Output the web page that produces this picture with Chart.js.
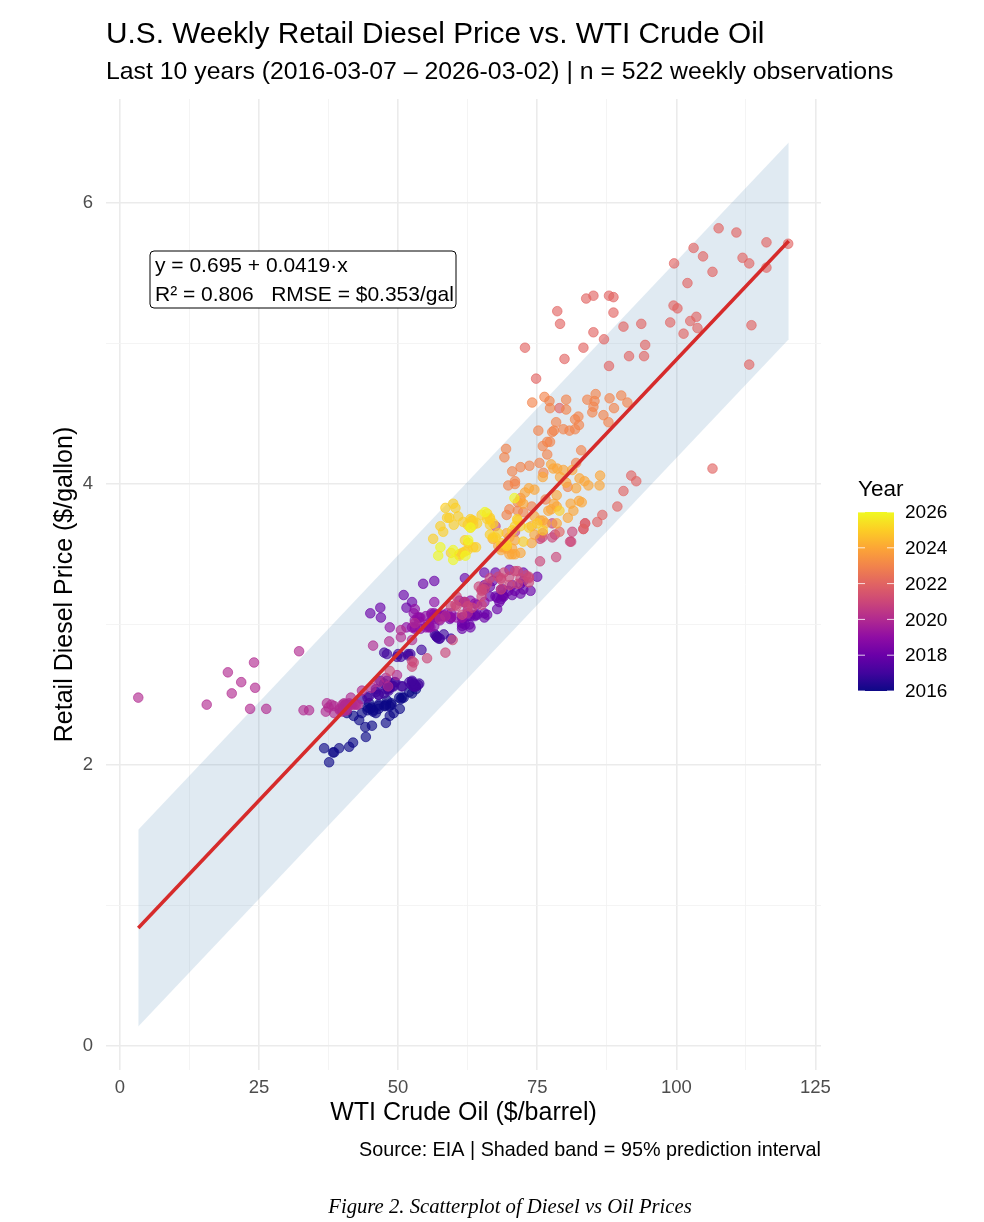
<!DOCTYPE html>
<html>
<head>
<meta charset="utf-8">
<script src="https://cdn.jsdelivr.net/npm/chart.js@4.4.1/dist/chart.umd.min.js"></script>
<style>
  html, body { margin: 0; padding: 0; background: #fff; }
  canvas { display: block; }
</style>
</head>
<body>
<canvas id="grafico" width="984" height="1222" style="width:984px;height:1222px"></canvas>
<script>
// weekly points, [WTI $/bbl, diesel $/gal], one list per calendar year
const y2016 = [[37.6,2.02],[38.5,2.09],[39.4,2.12],[38.3,2.09],[36.7,2.12],[41.2,2.13],[41.9,2.16],[44.2,2.20],
  [44.1,2.27],[45.3,2.28],[47.8,2.30],[48.5,2.35],[49.2,2.37],[50.3,2.40],[48.5,2.42],[48.8,2.43],[47.8,2.43],
  [46.5,2.43],[45.2,2.41],[45.0,2.40],[43.0,2.32],[40.8,2.37],[42.0,2.35],[46.0,2.37],[47.8,2.42],[46.5,2.40],
  [44.5,2.39],[45.5,2.39],[43.5,2.37],[45.5,2.38],[48.8,2.44],[50.5,2.47],[50.2,2.48],[50.7,2.48],[48.0,2.46],
  [44.8,2.44],[44.5,2.41],[46.5,2.42],[47.5,2.42],[51.0,2.48],[52.5,2.51],[52.0,2.52],[53.2,2.54]];
const y2017 = [[52.5,2.59],[52.0,2.59],[52.4,2.57],[52.8,2.56],[52.8,2.56],[53.2,2.56],[53.2,2.56],[53.6,2.57],[53.8,2.58],
  [53.0,2.57],[48.5,2.56],[48.2,2.54],[48.3,2.53],[50.8,2.56],[52.8,2.58],[52.5,2.60],[49.5,2.59],
  [48.5,2.55],[46.0,2.54],[48.5,2.55],[50.6,2.56],[49.0,2.56],[47.8,2.54],[46.0,2.52],[44.5,2.48],[43.5,2.47],
  [46.5,2.50],[44.8,2.49],[46.5,2.50],[47.5,2.51],[49.2,2.56],[49.3,2.59],[48.0,2.60],[47.5,2.58],[46.8,2.60],
  [47.5,2.80],[48.0,2.79],[49.8,2.77],[51.8,2.79],[50.5,2.77],[50.0,2.79],[51.8,2.78],[52.2,2.79],[54.2,2.82],
  [56.8,2.92],[56.6,2.93],[57.0,2.91],[58.2,2.93],[57.0,2.91],[57.3,2.90],[57.5,2.90],[59.5,2.90]];
const y2018 = [[61.5,3.01],[63.0,3.06],[64.2,3.07],[63.8,3.07],[65.5,3.08],[62.5,3.06],[59.3,3.04],[62.0,3.00],[62.8,3.00],
  [61.5,2.99],[61.5,2.97],[63.0,2.98],[65.5,3.05],[63.8,3.06],[66.0,3.07],[67.8,3.11],[68.2,3.16],[68.5,3.18],
  [70.5,3.21],[71.0,3.24],[72.0,3.29],[67.0,3.31],[65.5,3.28],[66.5,3.27],[65.5,3.26],[72.0,3.22],
  [73.8,3.24],[72.5,3.25],[69.0,3.20],[68.8,3.20],[68.8,3.21],[67.5,3.20],[66.5,3.20],[67.8,3.19],[69.8,3.24],
  [68.5,3.25],[68.8,3.25],[70.5,3.28],[72.5,3.31],[75.0,3.34],[72.5,3.37],[70.0,3.39],[67.5,3.37],[65.5,3.37],
  [62.0,3.33],[56.5,3.31],[54.5,3.29],[51.0,3.21],[52.5,3.16],[51.5,3.12],[46.8,3.12],[45.0,3.08],[46.9,3.05]];
const y2019 = [[48.5,2.98],[51.5,2.98],[52.5,2.98],[53.0,2.97],[54.0,2.97],[53.0,2.98],[55.5,3.01],[56.2,3.05],
  [56.5,3.08],[57.0,3.07],[58.8,3.08],[59.5,3.08],[62.5,3.10],[64.2,3.14],[63.8,3.15],[65.5,3.16],[63.0,3.17],
  [61.8,3.16],[62.0,3.16],[61.0,3.17],[56.5,3.16],[53.0,3.11],[52.8,3.08],[53.8,3.05],[58.0,3.06],
  [57.5,3.06],[58.2,3.06],[57.0,3.05],[56.5,3.04],[57.5,3.03],[53.8,3.02],[55.5,2.99],[55.8,2.98],[55.0,2.98],
  [55.5,2.98],[56.5,2.99],[59.5,3.05],[56.0,3.08],[53.5,3.05],[53.0,3.03],[54.0,3.05],[55.0,3.06],[56.0,3.07],
  [56.8,3.07],[57.0,3.06],[57.8,3.06],[58.0,3.07],[58.5,3.06],[59.5,3.05],[60.5,3.05],[61.5,3.05],[61.5,3.05]];
const y2020 = [[62.5,3.08],[58.5,3.06],[57.5,3.04],[53.0,3.01],[50.5,2.96],[50.5,2.91],[52.5,2.89],[48.4,2.88],
  [45.5,2.85],[32.2,2.81],[24.1,2.73],[19.4,2.66],[21.8,2.59],[24.3,2.55],[20.1,2.51],[3.3,2.48],[15.6,2.43],
  [23.4,2.40],[26.3,2.40],[33.0,2.39],[34.0,2.39],[37.2,2.44],[38.5,2.42],[38.0,2.43],[40.3,2.44],[40.0,2.43],
  [40.5,2.43],[40.7,2.43],[41.2,2.44],[41.5,2.43],[41.8,2.43],[42.2,2.43],[42.5,2.43],[42.8,2.43],[40.5,2.43],
  [37.5,2.41],[39.5,2.40],[40.0,2.38],[39.5,2.39],[40.5,2.39],[40.8,2.39],[40.0,2.39],[37.0,2.38],
  [38.5,2.37],[41.0,2.43],[41.5,2.48],[43.5,2.53],[45.2,2.55],[46.5,2.59],[47.8,2.62],[48.2,2.56],[49.8,2.64]];
const y2021 = [[48.5,2.67],[52.5,2.70],[52.8,2.73],[52.5,2.74],[55.2,2.76],[58.5,2.80],[59.8,2.89],[61.5,3.07],
  [62.0,3.16],[65.0,3.20],[65.0,3.24],[60.5,3.20],[60.3,3.14],[59.5,3.13],[60.5,3.13],[63.3,3.12],[62.5,3.13],
  [65.0,3.14],[65.0,3.25],[64.5,3.27],[65.5,3.25],[68.5,3.25],[70.0,3.28],[71.5,3.29],[73.5,3.30],[73.5,3.33],
  [73.0,3.35],[73.5,3.34],[68.5,3.33],[72.0,3.33],[70.0,3.34],[68.0,3.34],[66.5,3.33],[66.0,3.29],[68.5,3.32],
  [69.0,3.37],[71.0,3.38],[71.5,3.38],[75.5,3.45],[78.4,3.48],[81.1,3.59],[83.3,3.68],[83.6,3.72],
  [81.3,3.66],[80.9,3.59],[77.7,3.72],[75.9,3.62],[67.5,3.70],[71.0,3.66],[77.7,3.62],[78.2,3.64],[75.5,3.61]];
const y2022 = [[76.0,3.65],[79.0,3.66],[85.8,3.73],[86.7,3.78],[89.4,3.84],[90.5,3.95],[92.8,4.02],[91.9,4.06],
  [106.5,4.11],[113.1,4.85],[100.2,5.25],[113.5,5.13],[103.6,5.19],[101.3,5.07],[98.9,5.15],[102.5,5.16],
  [103.8,5.11],[99.5,5.27],[102.0,5.43],[103.1,5.68],[104.8,5.62],[111.9,5.61],[107.6,5.82],[110.8,5.79],
  [116.2,5.72],[120.1,5.71],[113.1,5.57],[116.2,5.54],[106.5,5.51],[99.6,5.57],[93.7,5.14],[90.5,5.12],
  [94.4,4.99],[91.5,4.91],[94.2,4.91],[87.9,4.84],[87.0,5.03],[85.1,5.08],[83.3,4.97],[79.9,4.89],
  [78.6,5.23],[83.8,5.32],[85.1,5.34],[87.9,5.34],[88.7,5.33],[88.7,5.22],[79.1,5.14],[72.8,4.97],
  [74.8,4.75],[79.0,4.54],[83.3,3.68],[83.6,3.72]];
const y2023 = [[74.1,4.58],[76.3,4.62],[77.2,4.59],[80.2,4.60],[77.3,4.54],[80.2,4.53],[78.4,4.44],[75.2,4.38],
  [77.7,4.37],[76.8,4.30],[77.3,4.30],[76.8,4.21],[69.4,4.25],[69.1,4.19],[73.6,4.13],[75.4,4.15],[70.5,4.09],
  [76.1,4.08],[71.0,4.02],[69.8,3.99],[72.0,3.90],[71.5,3.87],[70.0,3.82],[72.5,3.80],[69.5,3.78],[71.5,3.81],
  [74.0,3.84],[76.5,3.89],[80.5,3.98],[82.0,4.15],[81.8,4.39],[79.7,4.39],[80.8,4.38],[82.9,4.24],[81.8,4.46],
  [82.4,4.48],[84.9,4.51],[85.1,4.55],[85.3,4.59],[86.9,4.49],[87.8,4.44],[88.8,4.54],[90.1,4.63],[91.2,4.58],
  [88.0,4.61],[85.5,4.64],[84.0,4.60],[82.5,4.42],[78.0,4.38],[76.0,4.27],[72.0,4.12],[71.0,4.00]];
const y2024 = [[72.0,3.88],[72.5,3.86],[72.8,3.94],[74.5,3.96],[73.5,3.97],[76.0,4.05],[77.5,4.14],[77.9,4.11],
  [78.6,4.11],[79.7,4.10],[81.3,4.10],[82.6,4.04],[84.2,3.99],[86.2,3.99],[86.3,4.06],[83.5,4.02],[82.0,3.97],
  [79.1,4.05],[80.2,4.01],[78.5,3.92],[78.0,3.86],[77.5,3.82],[76.0,3.74],[78.5,3.72],[80.5,3.76],
  [81.5,3.81],[83.0,3.87],[82.5,3.88],[81.0,3.86],[78.5,3.84],[77.0,3.81],[74.5,3.77],[76.5,3.72],[75.5,3.74],
  [74.0,3.70],[69.5,3.65],[67.0,3.61],[69.5,3.55],[68.5,3.55],[74.0,3.58],[74.5,3.64],[70.0,3.62],[71.0,3.60],
  [70.5,3.54],[68.0,3.56],[69.5,3.54],[69.0,3.55],[68.5,3.53],[70.0,3.50],[70.5,3.50],[71.0,3.50],[72.0,3.51]];
const y2025 = [[72.5,3.59],[76.0,3.67],[79.0,3.81],[75.0,3.72],[73.5,3.69],[72.0,3.70],[71.5,3.74],[71.0,3.70],
  [70.5,3.67],[68.0,3.65],[66.5,3.64],[67.5,3.62],[68.5,3.58],[69.5,3.57],[69.5,3.56],[62.0,3.60],[62.6,3.58],
  [63.5,3.55],[62.5,3.53],[59.5,3.51],[61.0,3.49],[62.0,3.52],[61.0,3.50],[61.5,3.51],[64.0,3.55],[67.0,3.62],
  [71.4,3.75],[66.5,3.76],[66.0,3.75],[67.1,3.72],[66.5,3.71],[66.0,3.79],[66.5,3.75],[65.0,3.78],[63.2,3.74],
  [63.5,3.71],[64.2,3.72],[63.0,3.69],[63.0,3.75],[63.5,3.74],[62.5,3.71],[61.7,3.73],[60.8,3.77],[59.2,3.76],
  [57.6,3.70],[60.0,3.71],[59.9,3.86],[60.3,3.83],[58.5,3.83],[58.8,3.76],[58.1,3.66],[56.3,3.61]];
const y2026 = [[57.2,3.49],[59.9,3.46],[57.6,3.55],[59.9,3.53],[62.1,3.49],[62.6,3.60],[63.0,3.69],[65.6,3.80],[70.9,3.90]];

const years = [2016, 2017, 2018, 2019, 2020, 2021, 2022, 2023, 2024, 2025, 2026];
const pointsByYear = [y2016, y2017, y2018, y2019, y2020, y2021, y2022, y2023, y2024, y2025, y2026];
// plasma colours at 2016, 2017 ... 2026
const plasma = ['#0d0887','#41049d','#6a00a8','#8f0da4','#b12a90','#cc4778','#e16462','#f2844b','#fca636','#fcce25','#f0f921'];

// fitted line and 95% prediction band (end points)
const fitX = [3.3, 120.2];
const fitY = [0.84, 5.73];
const bandLow = [0.14, 5.03];
const bandHigh = [1.54, 6.43];

const xTicks = [0, 12.5, 25, 37.5, 50, 62.5, 75, 87.5, 100, 112.5, 125];
const yTicks = [0, 1, 2, 3, 4, 5, 6];
const legendYears = [2016, 2018, 2020, 2022, 2024, 2026];

const title = 'U.S. Weekly Retail Diesel Price vs. WTI Crude Oil';
const subtitle = 'Last 10 years (2016-03-07 \u2013 2026-03-02) | n = 522 weekly observations';
const fitText1 = 'y = 0.695 + 0.0419\u00b7x';
const fitText2 = 'R\u00b2 = 0.806   RMSE = $0.353/gal';
const xTitle = 'WTI Crude Oil ($/barrel)';
const yTitle = 'Retail Diesel Price ($/gallon)';
const caption = 'Source: EIA | Shaded band = 95% prediction interval';
const figCaption = 'Figure 2. Scatterplot of Diesel vs Oil Prices';

const FONT = '"Liberation Sans", Arial, sans-serif';

function rgba(hex, a) {
  const n = parseInt(hex.slice(1), 16);
  return 'rgba(' + (n >> 16) + ',' + ((n >> 8) & 255) + ',' + (n & 255) + ',' + a + ')';
}

const datasets = [];

datasets.push({
  type: 'line', label: 'low', order: 50,
  data: fitX.map((x, i) => ({ x: x, y: bandLow[i] })),
  borderWidth: 0, pointRadius: 0, fill: false
});
datasets.push({
  type: 'line', label: 'high', order: 49,
  data: fitX.map((x, i) => ({ x: x, y: bandHigh[i] })),
  borderWidth: 0, pointRadius: 0, fill: '-1',
  backgroundColor: 'rgba(70,130,180,0.17)'
});

pointsByYear.forEach((pts, i) => {
  datasets.push({
    type: 'scatter', label: String(years[i]), order: 20 - i,
    data: pts.map(p => ({ x: p[0], y: p[1] })),
    pointRadius: 4.8, pointBorderWidth: 1,
    backgroundColor: rgba(plasma[i], 0.64),
    borderColor: rgba(plasma[i], 0.64)
  });
});

datasets.push({
  type: 'line', label: 'fit', order: 0,
  data: fitX.map((x, i) => ({ x: x, y: fitY[i] })),
  borderColor: '#d62b2b', borderWidth: 3.5, pointRadius: 0, fill: false
});

const textos = {
  id: 'textos',
  afterDraw(chart) {
    const c = chart.ctx;
    const a = chart.chartArea;
    c.save();
    c.fillStyle = '#000';
    c.textBaseline = 'middle';

    c.textAlign = 'left';
    c.font = '29.8px ' + FONT;
    c.fillText(title, 106, 35);
    c.font = '24.8px ' + FONT;
    c.fillText(subtitle, 106, 72);

    c.textAlign = 'center';
    c.font = '25px ' + FONT;
    c.fillText(xTitle, (a.left + a.right) / 2, 1113);
    c.save();
    c.translate(65, (a.top + a.bottom) / 2);
    c.rotate(-Math.PI / 2);
    c.fillText(yTitle, 0, 0);
    c.restore();

    c.textAlign = 'right';
    c.font = '19.8px ' + FONT;
    c.fillText(caption, a.right, 1151);

    c.textAlign = 'center';
    c.font = 'italic 20.7px "Liberation Serif", serif';
    c.fillText(figCaption, 510, 1208);

    // fit label box
    const bx = 150, by = 251, bw = 306, bh = 57, r = 4;
    c.beginPath();
    c.moveTo(bx + r, by);
    c.arcTo(bx + bw, by, bx + bw, by + bh, r);
    c.arcTo(bx + bw, by + bh, bx, by + bh, r);
    c.arcTo(bx, by + bh, bx, by, r);
    c.arcTo(bx, by, bx + bw, by, r);
    c.closePath();
    c.fillStyle = '#fff';
    c.fill();
    c.lineWidth = 1;
    c.strokeStyle = '#000';
    c.stroke();
    c.fillStyle = '#000';
    c.textAlign = 'left';
    c.font = '21px ' + FONT;
    c.fillText(fitText1, 155, 266);
    c.fillText(fitText2, 155, 295);

    // colour bar legend
    const barL = 858, barW = 36, barTop = 512, barBot = 691;
    c.font = '22.5px ' + FONT;
    c.fillText('Year', 858, 490);
    const g = c.createLinearGradient(0, barBot, 0, barTop);
    plasma.forEach((col, i) => g.addColorStop(i / (plasma.length - 1), col));
    c.fillStyle = g;
    c.fillRect(barL, barTop, barW, barBot - barTop);
    c.font = '19px ' + FONT;
    legendYears.forEach(yr => {
      const yy = barBot - (yr - years[0]) / (years[years.length - 1] - years[0]) * (barBot - barTop);
      c.strokeStyle = 'rgba(255,255,255,0.8)';
      c.lineWidth = 1;
      c.beginPath();
      c.moveTo(barL, yy); c.lineTo(barL + 7, yy);
      c.moveTo(barL + barW - 7, yy); c.lineTo(barL + barW, yy);
      c.stroke();
      c.fillStyle = '#000';
      c.fillText(String(yr), 905, yy + 1);
    });
    c.restore();
  }
};

new Chart(document.getElementById('grafico'), {
  type: 'scatter',
  data: { datasets: datasets },
  plugins: [textos],
  options: {
    responsive: false,
    animation: false,
    events: [],
    layout: { padding: { left: 0, right: 163, top: 99, bottom: 0 } },
    plugins: { legend: { display: false }, tooltip: { enabled: false } },
    scales: {
      x: {
        type: 'linear', min: -2.5, max: 126,
        afterBuildTicks: s => { s.ticks = xTicks.map(v => ({ value: v })); },
        afterFit: s => { s.height = 152; },
        border: { display: false },
        grid: {
          drawTicks: false,
          color: ctx => (ctx.tick && ctx.tick.value % 25 === 0) ? '#ebebeb' : '#f3f3f3',
          lineWidth: ctx => (ctx.tick && ctx.tick.value % 25 === 0) ? 1.6 : 0.9
        },
        ticks: {
          padding: 7, color: '#4d4d4d', font: { family: FONT, size: 18.5 },
          maxRotation: 0, autoSkip: false,
          callback: v => (v % 25 === 0 ? String(v) : '')
        }
      },
      y: {
        type: 'linear', min: -0.17, max: 6.74,
        afterBuildTicks: s => { s.ticks = yTicks.map(v => ({ value: v })); },
        afterFit: s => { s.width = 106; },
        border: { display: false },
        grid: {
          drawTicks: false,
          color: ctx => (ctx.tick && ctx.tick.value % 2 === 0) ? '#ebebeb' : '#f3f3f3',
          lineWidth: ctx => (ctx.tick && ctx.tick.value % 2 === 0) ? 1.6 : 0.9
        },
        ticks: {
          padding: 13, color: '#4d4d4d', font: { family: FONT, size: 18.5 },
          autoSkip: false,
          callback: v => (v % 2 === 0 ? String(v) : '')
        }
      }
    }
  }
});
</script>
</body>
</html>
